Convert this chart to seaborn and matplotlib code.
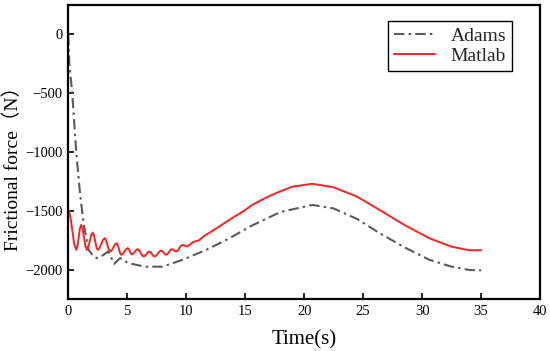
import matplotlib
matplotlib.use("Agg")
import matplotlib.pyplot as plt
import seaborn as sns
import pandas as pd

adams_t = [0, 0.1, 0.34, 0.68, 1.0, 1.3, 1.72, 2.1, 2.42, 2.9, 3.4, 3.9, 4.4, 5.1, 5.8, 6.6, 8.0, 9.7,
           11.7, 13.7, 15.4, 18.0, 20.7, 22.5, 24.5, 26.4, 28.5, 30.6, 32.5, 34.0, 35.0]
adams_v = [0, -250, -500, -1000, -1350, -1605, -1832, -1880, -1902, -1880, -1846, -1950, -1902, -1944,
           -1960, -1975, -1975, -1916, -1832, -1732, -1634, -1510, -1450, -1480, -1570, -1690, -1810,
           -1916, -1975, -2003, -2006]

matlab_t = [0, 0.17, 0.51, 0.68, 0.79, 0.99, 1.1, 1.22, 1.46, 1.58, 1.7, 1.95, 2.08, 2.18, 2.4, 2.5,
            2.65, 2.95, 3.1, 3.21, 3.44, 3.56, 3.7, 3.97, 4.1, 4.2, 4.4, 4.5, 4.64, 4.91, 5.05, 5.14,
            5.31, 5.4, 5.52, 5.77, 5.9, 6.02, 6.27, 6.4, 6.52, 6.77, 6.9, 7.0, 7.2, 7.3, 7.45, 7.75,
            7.9, 8.0, 8.2, 8.3, 8.42, 8.67, 8.8, 8.9, 9.06, 9.15, 9.3, 9.55, 9.7, 9.8, 10.0, 10.1,
            10.6, 11.1, 11.5, 12.0, 12.8, 13.9, 14.8, 15.6, 16.8, 17.9, 19.0, 20.7, 22.5, 24.5, 26.4,
            28.5, 30.6, 32.5, 34.0, 35.0]
matlab_v = [-1490, -1540, -1780, -1832, -1800, -1652, -1620, -1651, -1800, -1832, -1810, -1707, -1685,
            -1707, -1810, -1832, -1818, -1748, -1733, -1750, -1829, -1846, -1836, -1786, -1775, -1790,
            -1860, -1874, -1866, -1826, -1817, -1825, -1862, -1870, -1864, -1832, -1826, -1835, -1879,
            -1888, -1882, -1852, -1846, -1852, -1882, -1888, -1881, -1845, -1838, -1843, -1869, -1874,
            -1867, -1833, -1826, -1829, -1843, -1846, -1838, -1798, -1790, -1792, -1801, -1803, -1765,
            -1750, -1715, -1685, -1634, -1561, -1507, -1450, -1386, -1338, -1295, -1270, -1300, -1380,
            -1493, -1620, -1733, -1805, -1835, -1835]

x_ticks = [0, 5, 10, 15, 20, 25, 30, 35, 40]
y_ticks = [0, -500, -1000, -1500, -2000]

sns.set_theme(style="white")
plt.rcParams['font.family'] = ['Liberation Serif', 'Noto Sans CJK SC']

fig = plt.figure(figsize=(5.5, 3.51), dpi=100)
ax = fig.add_axes([0.124, 0.148, 0.858, 0.838])

df_a = pd.DataFrame({"t": adams_t, "v": adams_v})
df_m = pd.DataFrame({"t": matlab_t, "v": matlab_v})

sns.lineplot(data=df_a, x="t", y="v", ax=ax, color="#5a5a5a", linewidth=1.5, label="Adams")
ax.lines[-1].set_dashes((5, 2, 1.2, 2))
sns.lineplot(data=df_m, x="t", y="v", ax=ax, color="#ff2020", linewidth=1.4, label="Matlab")

ax.set_xlim(0, 40)
ax.set_ylim(-2250, 250)
ax.set_xticks(x_ticks)
ax.set_yticks(y_ticks)
ax.set_xticklabels([str(t) for t in x_ticks])
ax.set_yticklabels([str(t).replace('-', '\u2212') for t in y_ticks])
ax.tick_params(direction='in', length=4, width=1.2, labelsize=10.5, colors='black',
               bottom=True, left=True, top=False, right=False, pad=4)
for s in ax.spines.values():
    s.set_color('black')
    s.set_linewidth(1.6)

ax.set_xlabel("Time(s)", fontsize=15, color='black')
ax.xaxis.set_label_coords(0.5, -0.105)
ax.set_ylabel("Frictional force（N）", fontsize=14, color='black')
ax.yaxis.set_label_coords(-0.098, 0.46)

leg = ax.legend(loc='upper right', bbox_to_anchor=(0.9405, 0.945), fontsize=14, frameon=True,
                fancybox=False, edgecolor='black', framealpha=1, handlelength=2.1,
                borderpad=0.3, labelspacing=0.15, handletextpad=0.8, borderaxespad=0)
leg.get_frame().set_linewidth(1.0)

fig.savefig("out.png", dpi=100)
